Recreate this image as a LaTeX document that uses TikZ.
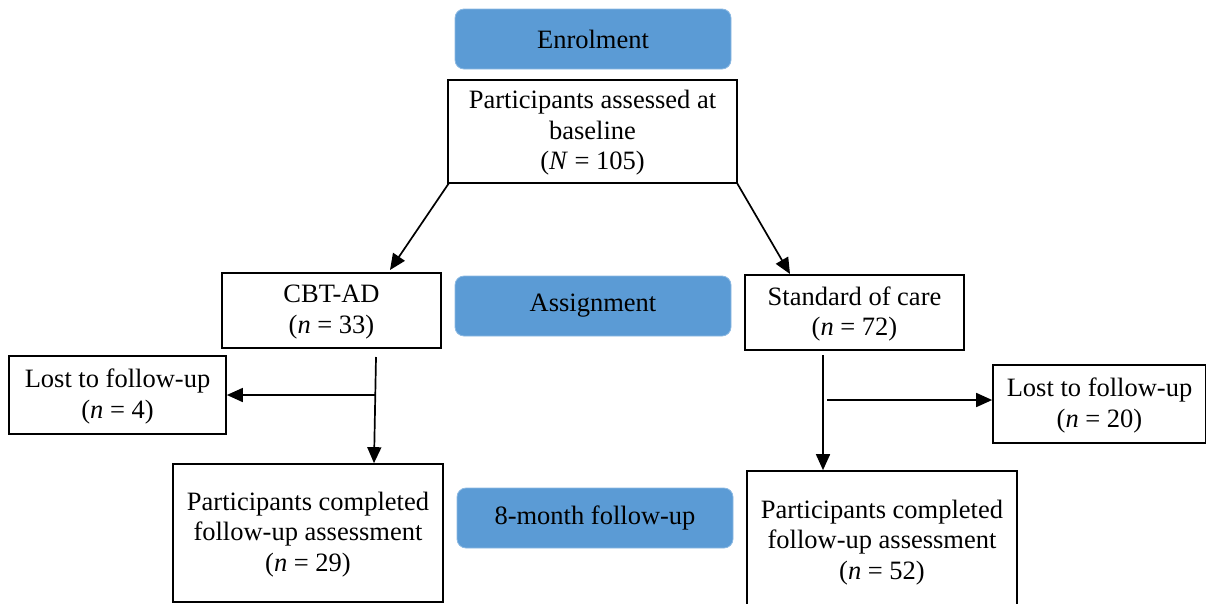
\documentclass[tikz,border=0pt]{standalone}
\usepackage{fontspec}
\setmainfont{Liberation Serif}
\usetikzlibrary{arrows.meta}
\definecolor{stage}{HTML}{5B9BD5}
\begin{document}
\begin{tikzpicture}[x=1pt,y=-1pt,
  every node/.style={font=\fontsize{26.5}{30.5}\selectfont, align=center, inner sep=0pt},
  box/.style={draw=black, line width=1.7pt, rectangle, text depth=3pt},
  stagebox/.style={fill=stage, draw=stage!70!white, line width=0.8pt, rounded corners=9pt, minimum width=276pt, minimum height=60pt},
  conn/.style={line width=1.7pt, -{Triangle[length=16pt,width=14pt]}}]
\useasboundingbox (0,0) rectangle (1206,603);
\node[stagebox] (enrol) at (593,39) {Enrolment};
\node[stagebox] (assign) at (593,306) {Assignment};
\node[stagebox] (follow) at (595,518) {8-month follow-up};
\node[box, minimum width=289pt, minimum height=103pt] (base) at (592.5,131.5) {Participants assessed at\\baseline\\(\textit{N} = 105)};
\node[box, minimum width=219pt, minimum height=75pt] (cbt) at (331.5,310.5) {CBT-AD\\(\textit{n} = 33)};
\node[box, minimum width=219pt, minimum height=75pt] (soc) at (854.5,312.5) {Standard of care\\(\textit{n} = 72)};
\node[box, minimum width=217pt, minimum height=78pt] (lostL) at (117.5,395) {Lost to follow-up\\(\textit{n} = 4)};
\node[box, minimum width=213pt, minimum height=78pt] (lostR) at (1099.5,404) {Lost to follow-up\\(\textit{n} = 20)};
\node[box, minimum width=270pt, minimum height=138pt] (partL) at (308,533) {Participants completed\\follow-up assessment\\(\textit{n} = 29)};
\node[box, minimum width=270pt, minimum height=140pt] (partR) at (882,541) {Participants completed\\follow-up assessment\\(\textit{n} = 52)};
% connectors
\coordinate (bl) at (449,183);
\coordinate (br) at (737,183);
\coordinate (cbtTip) at (390,270);
\coordinate (socTip) at (790,274);
\coordinate (cbtTop) at (376,357);
\coordinate (cbtMid) at (375,395);
\coordinate (socTop) at (823,355);
\coordinate (socMid) at (827,400);
\draw[conn] (bl) -- (cbtTip);
\draw[conn] (br) -- (socTip);
\draw[conn] (cbtTop) -- (partL.north -| 374,0);
\draw[conn] (cbtMid) -- (lostL.east);
\draw[conn] (socTop) -- (partR.north -| 823,0);
\draw[conn] (socMid) -- (socMid -| lostR.west);
\end{tikzpicture}
\end{document}
